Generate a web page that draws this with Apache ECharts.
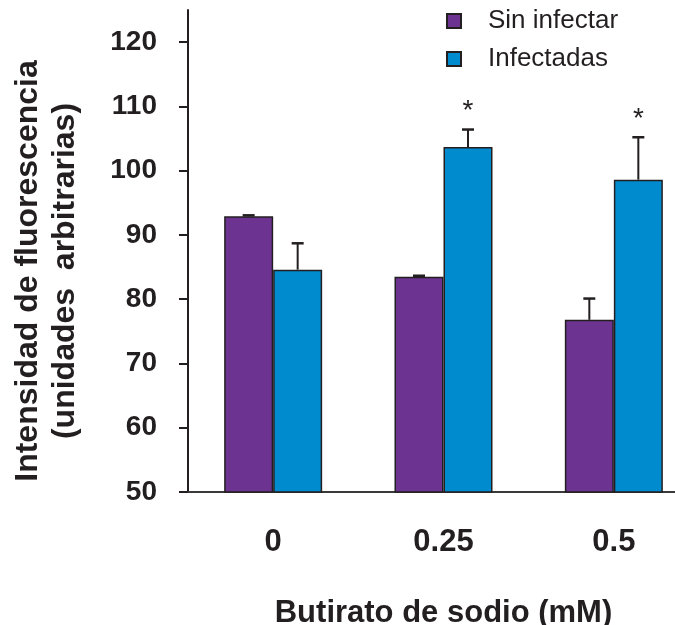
<!DOCTYPE html>
<html>
<head>
<meta charset="utf-8">
<script src="https://cdn.jsdelivr.net/npm/echarts@6/dist/echarts.min.js"></script>
<style>
  html, body { margin: 0; padding: 0; background: #fff; }
  #chart { width: 675px; height: 625px; }
</style>
</head>
<body>
<div id="chart"></div>
<script>
// data
const categories = ['0', '0.25', '0.5'];
const sinInfectar = [92.9, 83.5, 76.8];
const sinInfectarErr = [0.15, 0.15, 3.3];
const infectadas = [84.6, 103.7, 98.6];
const infectadasErr = [4.1, 2.7, 6.6];
const marks = ['', '*', '*'];
const yTicks = [50, 60, 70, 80, 90, 100, 110, 120];

const ink = '#231f20';
const font = 'Liberation Sans, Arial, sans-serif';
const purple = '#6c3391';
const blue = '#008bcf';
const barW = 49;

// rows for the error bars: [category, series offset, value, err, mark]
const errRows = [];
categories.forEach((c, i) => {
    errRows.push([i, -1, sinInfectar[i], sinInfectarErr[i], '']);
    errRows.push([i, 1, infectadas[i], infectadasErr[i], marks[i]]);
});

const chart = echarts.init(document.getElementById('chart'));

chart.setOption({
    animation: false,
    grid: { left: 188, right: -24, top: 10, bottom: 133, outerBoundsMode: 'none' },
    legend: [
        {
            data: ['Sin infectar'], orient: 'vertical', left: 446, top: 8, padding: 0,
            itemWidth: 14, itemHeight: 14, icon: 'rect',
            textStyle: { color: ink, fontSize: 26, fontFamily: font, padding: [0, 0, 0, 22] },
        },
        {
            data: ['Infectadas'], orient: 'vertical', left: 446, top: 46, padding: 0,
            itemWidth: 14, itemHeight: 14, icon: 'rect',
            textStyle: { color: ink, fontSize: 26, fontFamily: font, padding: [0, 0, 0, 22] },
        },
    ],
    xAxis: {
        type: 'category',
        data: categories,
        name: 'Butirato de sodio (mM)',
        nameLocation: 'middle',
        nameGap: 106,
        nameTextStyle: { color: ink, fontSize: 31, fontWeight: 'bold', fontFamily: font },
        axisLine: { lineStyle: { color: '#3a3a3a', width: 2 } },
        axisTick: { show: false },
        axisLabel: { color: ink, fontSize: 31, fontWeight: 'bold', fontFamily: font, margin: 35 },
    },
    yAxis: {
        type: 'value',
        min: 50, max: 125, interval: 10,
        name: 'Intensidad de fluorescencia\n(unidades  arbitrarias)',
        nameLocation: 'middle',
        nameGap: 104,
        nameTextStyle: {
            color: ink, fontSize: 32, fontWeight: 'bold', fontFamily: font, lineHeight: 37,
            padding: [0, 40, 0, 0],
        },
        splitLine: { show: false },
        axisLine: { show: true, lineStyle: { color: ink, width: 2 } },
        axisTick: { show: true, length: 9, customValues: yTicks, lineStyle: { color: ink, width: 2 } },
        axisLabel: { color: ink, fontSize: 28, fontWeight: 'bold', fontFamily: font, margin: 31, customValues: yTicks },
    },
    series: [
        {
            name: 'Sin infectar', type: 'bar', data: sinInfectar,
            barWidth: barW, barGap: '0%',
            itemStyle: { color: purple, borderColor: ink, borderWidth: 1.5 },
        },
        {
            name: 'Infectadas', type: 'bar', data: infectadas,
            barWidth: barW, barGap: '0%',
            itemStyle: { color: blue, borderColor: ink, borderWidth: 1.5 },
        },
        {
            type: 'custom',
            data: errRows,
            z: 10,
            silent: true,
            renderItem(params, api) {
                const base = api.coord([api.value(0), api.value(2)]);
                const top = api.coord([api.value(0), api.value(2) + api.value(3)]);
                const x = base[0] + api.value(1) * barW / 2;
                const children = [
                    { type: 'line', shape: { x1: x, y1: base[1], x2: x, y2: top[1] }, style: { stroke: ink, lineWidth: 2 } },
                    { type: 'line', shape: { x1: x - 6, y1: top[1], x2: x + 6, y2: top[1] }, style: { stroke: ink, lineWidth: 2.5 } },
                ];
                const mark = errRows[params.dataIndex][4];
                if (mark) {
                    children.push({
                        type: 'text',
                        style: { text: mark, x: x, y: top[1] - 4, align: 'center', verticalAlign: 'bottom', fill: ink, fontSize: 28, fontFamily: font },
                    });
                }
                return { type: 'group', children };
            },
        },
    ],
});
</script>
</body>
</html>
